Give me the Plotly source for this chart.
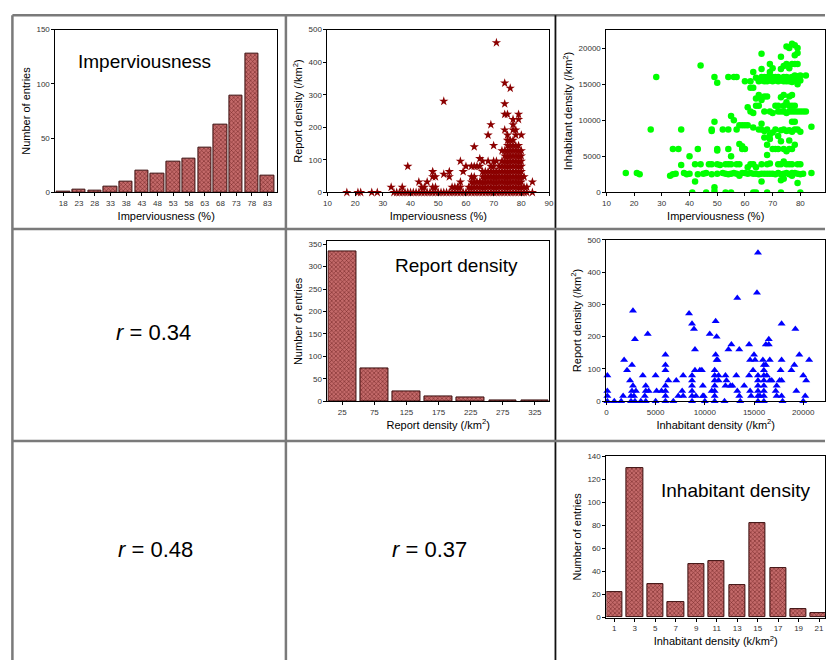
import plotly.graph_objects as go

W, H = 830, 665

# ---- histogram data ----
imperv_bins = [18, 23, 28, 33, 38, 43, 48, 53, 58, 63, 68, 73, 78, 83]
imperv_counts = [1, 3, 2, 5, 10, 20, 17, 28, 31, 41, 62, 89, 128, 15]

report_bins = [25, 75, 125, 175, 225, 275, 325]
report_counts = [333, 74, 22, 10, 8, 2, 2]

inhab_bins = [1, 3, 5, 7, 9, 11, 13, 15, 17, 19, 21]
inhab_counts = [22, 130, 29, 13, 46, 49, 28, 82, 43, 7, 4]

# ---- scatter data: imperviousness (%) -> report densities (/km2) ----
report_by_imperv = {
    17: [0], 21: [0], 22: [0], 26: [0], 28: [0], 33: [16], 34: [0], 35: [0],
    36: [0], 37: [16, 0], 38: [0], 39: [80, 0], 40: [0], 41: [0], 42: [0],
    43: [32, 0], 44: [16, 0], 45: [16, 0], 46: [32, 0], 47: [0],
    48: [64, 48, 16, 0], 49: [48, 16, 0], 50: [0], 51: [0], 52: [280, 56, 0],
    53: [0], 54: [64, 48, 0], 55: [16, 0], 56: [16, 0], 57: [16, 0],
    58: [96, 32, 16, 0], 59: [64, 0], 60: [80, 0], 61: [16, 0],
    62: [80, 48, 32, 16, 0], 63: [140, 80, 48, 32, 16, 0], 64: [80, 32, 16, 0],
    65: [104, 80, 32, 16, 0], 66: [96, 64, 48, 32, 16, 0],
    67: [64, 48, 32, 16, 0], 68: [176, 96, 64, 48, 32, 16, 0],
    69: [208, 80, 64, 48, 32, 16, 0], 70: [144, 96, 80, 64, 48, 32, 16, 0],
    71: [460, 96, 64, 48, 32, 16, 0], 72: [80, 64, 48, 32, 16, 0],
    73: [128, 96, 80, 64, 48, 32, 16, 0],
    74: [336, 272, 240, 192, 128, 112, 96, 80, 64, 48, 32, 16, 0],
    75: [240, 176, 160, 144, 128, 112, 96, 80, 64, 48, 32, 16, 0],
    76: [320, 160, 144, 128, 112, 96, 80, 64, 48, 32, 16, 0],
    77: [224, 208, 192, 160, 144, 128, 112, 96, 80, 64, 48, 32, 16, 0],
    78: [192, 176, 144, 128, 112, 96, 80, 64, 48, 32, 16, 0],
    79: [240, 224, 144, 128, 112, 96, 80, 64, 48, 32, 16, 0],
    80: [176, 128, 112, 96, 80, 64, 48, 32, 16, 0],
    81: [48, 16, 0], 82: [16, 0], 84: [32, 0],
}

# ---- scatter data: imperviousness (%) -> inhabitant densities (/km2) ----
inhab_by_imperv = {
    17: [2700], 21: [2700], 22: [2500], 26: [8700], 28: [16000], 33: [2300],
    34: [6000, 2500], 35: [2600], 36: [6000], 37: [8700, 3800], 38: [2700],
    39: [2500], 40: [5000, 2600], 41: [0], 42: [1500, 3900],
    43: [6000, 2500], 44: [17600, 3900], 45: [2600], 46: [0, 2700],
    47: [3900], 48: [8700, 8500, 3900, 2500], 49: [9800, 16000, 700, 200],
    50: [15200, 6000, 5800, 3900, 2600], 51: [3800], 52: [8700, 2700],
    53: [3900, 2600, 0], 54: [16000, 8700, 6000, 3900, 2500],
    55: [10600, 5000, 3900, 2600, 0], 56: [16000, 10000, 2700],
    57: [16000, 8700, 3900, 2600], 58: [9300, 6700, 3900, 2300],
    59: [6400, 6000, 9300, 2700], 60: [15400, 9300, 6000, 2700],
    61: [11800, 9300, 3500, 2600], 62: [15400, 14500, 11200, 3900, 2700],
    63: [16700, 14500, 11000, 9000, 3900, 2600, 0],
    64: [15900, 13000, 12000, 3500, 2600, 0],
    65: [15400, 13500, 12000, 8700, 2500],
    66: [19200, 17100, 16000, 15500, 12800, 9500, 8700, 3900, 1500, 2600],
    67: [16000, 15400, 13300, 11200, 8500, 7600, 2600],
    68: [16000, 15400, 13300, 8700, 6600, 5200, 3900, 2600, 0],
    69: [17800, 16700, 15500, 11200, 8000, 7400, 4000, 2600],
    70: [17200, 16000, 15400, 11000, 8300, 6000, 2600],
    71: [16000, 15500, 12000, 8700, 6000, 2500],
    72: [16000, 15400, 12000, 11200, 7800, 6000, 3900, 2700],
    73: [18800, 17100, 15500, 13200, 11200, 8600, 7100, 3900, 2500, 1700, 0],
    74: [17500, 16000, 15400, 13500, 12000, 11200, 8700, 6000, 4300, 2600, 1900],
    75: [20200, 17800, 16000, 15400, 12500, 11000, 8500, 5700, 3900, 2700],
    76: [20000, 17200, 15900, 15400, 13300, 12000, 11200, 8600, 7200, 6000, 3900, 2500],
    77: [20600, 17800, 16000, 15300, 13500, 12000, 11200, 9800, 8400, 6000, 3900, 2700, 2300],
    78: [20400, 19000, 17800, 16200, 15500, 12000, 11200, 9800, 8700, 6600, 2700],
    79: [20000, 19300, 17800, 16100, 15000, 11200, 8700, 3900, 1300, 2600],
    80: [16200, 15500, 11200, 8400, 3900, 2500, 0],
    81: [11200, 2600], 82: [16200, 11200], 84: [9100, 2700],
}

# ---- scatter data: inhabitant density (/km2) -> report densities (/km2) ----
report_by_inhab = {
    100: [80, 32, 16, 0], 800: [0], 1500: [0], 1700: [16], 1800: [128],
    2100: [96], 2400: [64], 2500: [16, 0], 2600: [112, 32], 2700: [280, 48],
    2800: [16], 2900: [192, 0], 3000: [32], 3500: [0], 3700: [80], 3900: [16],
    4000: [48, 32, 0], 4200: [208], 4300: [32], 5000: [80, 0], 5100: [32],
    5600: [32], 6000: [144, 112, 96, 48, 32, 16, 0], 6300: [64], 6800: [0],
    7100: [64], 7300: [16], 7700: [32], 7800: [80, 16], 8400: [272],
    8700: [240, 80, 64, 48, 32, 16, 0], 8900: [224], 9000: [160, 96],
    9100: [16], 9500: [96], 9700: [96], 9800: [48, 16], 9900: [16],
    10000: [0], 10500: [208], 10700: [32],
    11000: [96, 80, 64, 48, 32, 16, 0], 11100: [248, 144], 11200: [200, 128],
    11300: [128], 11400: [80, 64], 12000: [0], 12100: [80, 48], 12200: [64],
    12400: [160], 12600: [48], 12700: [176], 12800: [48],
    13200: [80], 13300: [320, 32], 13500: [160, 16], 13600: [0], 14000: [48],
    14500: [176, 80], 14600: [128, 32], 14700: [16], 14900: [96],
    15000: [144], 15100: [128], 15300: [336],
    15400: [460, 80, 64, 48, 32, 16, 0], 15600: [16], 15900: [128],
    16000: [112, 96, 80, 64, 48, 32, 16, 0], 16200: [176, 112], 16300: [80],
    16500: [192, 176], 16600: [128, 64], 16800: [64], 17200: [32],
    17300: [48, 16], 17600: [64], 17700: [96], 17800: [240, 128, 64, 16],
    17900: [0], 18800: [96], 19100: [112], 19200: [224], 19300: [32],
    19600: [144], 20000: [80, 0], 20200: [16], 20300: [64], 20600: [128],
}


def flatten(columns):
    xs, ys = [], []
    for x, vals in columns.items():
        for v in vals:
            xs.append(x)
            ys.append(v)
    return xs, ys


def px_x(p):
    return p / W


def px_y(p):
    return 1 - p / H


FONT = "Liberation Sans, Arial, sans-serif"
BAR_FILL = "#b45454"
BAR_EDGE = "#3a0d0d"
BAR_MARKER = dict(
    color=BAR_FILL,
    line=dict(color=BAR_EDGE, width=1),
    pattern=dict(shape="x", size=3, solidity=0.35, fgcolor="#7a2a2a",
                 bgcolor="#c46a6a", fillmode="replace"),
)

fig = go.Figure()

# histograms
fig.add_trace(go.Bar(x=imperv_bins, y=imperv_counts, width=4.3,
                     marker=BAR_MARKER, xaxis="x", yaxis="y"))
fig.add_trace(go.Bar(x=report_bins, y=report_counts, width=43,
                     marker=BAR_MARKER, xaxis="x4", yaxis="y4"))
fig.add_trace(go.Bar(x=inhab_bins, y=inhab_counts, width=1.6,
                     marker=BAR_MARKER, xaxis="x6", yaxis="y6"))

# scatters
sx, sy = flatten(report_by_imperv)
fig.add_trace(go.Scatter(x=sx, y=sy, mode="markers",
                         marker=dict(symbol="star", size=7, color="#8b0000"),
                         xaxis="x2", yaxis="y2", cliponaxis=False))
gx, gy = flatten(inhab_by_imperv)
fig.add_trace(go.Scatter(x=gx, y=gy, mode="markers",
                         marker=dict(symbol="circle", size=6.5, color="#00ff00"),
                         xaxis="x3", yaxis="y3"))
bx, by = flatten(report_by_inhab)
fig.add_trace(go.Scatter(x=bx, y=by, mode="markers",
                         marker=dict(symbol="triangle-up", size=7, color="#0000ff"),
                         xaxis="x5", yaxis="y5", cliponaxis=False))


def axis(domain, rng, title, standoff, **kw):
    d = dict(domain=domain, range=rng, showline=True, linecolor="black",
             linewidth=1, mirror=True, ticks="outside", ticklen=3,
             tickcolor="black", showgrid=False, zeroline=False,
             tickformat="d",
             tickfont=dict(size=8, color="#333333", family=FONT),
             title=dict(text=title, font=dict(size=11, color="black", family=FONT),
                        standoff=standoff))
    d.update(kw)
    return d


col1 = [px_x(52), px_x(276)]
col2 = [px_x(327), px_x(551)]
col3 = [px_x(609), 1.0]
row1 = [px_y(191), px_y(26)]
row2_hist = [px_y(402.7), px_y(240.7)]
row2_sc = [px_y(402.7), px_y(239)]
row3 = [px_y(622), px_y(458.3)]

layout = dict(
    width=W, height=H, margin=dict(l=0, r=0, t=0, b=0),
    paper_bgcolor="white", plot_bgcolor="white", showlegend=False,
    bargap=0,
    font=dict(family=FONT),
    xaxis=axis(col1, [15.5, 86], "Imperviousness (%)", 5,
               tickvals=imperv_bins, anchor="y"),
    yaxis=axis(row1, [0, 150], "Number of entries", 3, dtick=50, anchor="x"),
    xaxis2=axis(col2, [10, 90], "Imperviousness (%)", 5, dtick=10, anchor="y2"),
    yaxis2=axis(row1, [0, 500], "Report density (/km<sup>2</sup>)", 3,
                dtick=100, anchor="x2"),
    xaxis3=axis(col3, [10, 88.9], "Imperviousness (%)", 5, dtick=10, anchor="y3"),
    yaxis3=axis(row1, [0, 22550], "Inhabitant density (/km<sup>2</sup>)", 3,
                dtick=5000, anchor="x3"),
    xaxis4=axis(col2, [2, 347], "Report density (/km<sup>2</sup>)", 5,
                tickvals=report_bins, anchor="y4"),
    yaxis4=axis(row2_hist, [0, 356], "Number of entries", 3, dtick=50, anchor="x4"),
    xaxis5=axis(col3, [0, 22211], "Inhabitant density (/km<sup>2</sup>)", 5,
                dtick=5000, anchor="y5"),
    yaxis5=axis(row2_sc, [0, 500], "Report density (/km<sup>2</sup>)", 3,
                dtick=100, anchor="x5"),
    xaxis6=axis(col3, [0.225, 21.58], "Inhabitant density (k/km<sup>2</sup>)", 5,
                tickvals=inhab_bins, anchor="y6"),
    yaxis6=axis(row3, [0, 140], "Number of entries", 3, dtick=20, anchor="x6"),
)
fig.update_layout(**layout)

# table grid
GRAY = "#7a7a7a"
grid = [
    (8.5, 11.5, 8.5, H, GRAY, 2.5),
    (8.5, 11.5, W, 11.5, GRAY, 2.5),
    (285, 11.5, 285, H, GRAY, 2.5),
    (557.5, 11.5, 557.5, H, "#111111", 1.8),
    (8.5, 228, W, 228, GRAY, 2.5),
    (8.5, 443, W, 443, GRAY, 2.5),
]
for x0, y0, x1, y1, c, w in grid:
    fig.add_shape(type="line", xref="paper", yref="paper",
                  x0=px_x(x0), y0=px_y(y0), x1=px_x(x1), y1=px_y(y1),
                  line=dict(color=c, width=w))

# panel labels and correlation coefficients
labels = [
    (142, 58, "Imperviousness", 19),
    (457, 265, "Report density", 19),
    (740, 493, "Inhabitant density", 19),
    (151, 333, "<i>r</i> = 0.34", 22),
    (153, 553, "<i>r</i> = 0.48", 22),
    (430, 553, "<i>r</i> = 0.37", 22),
]
for x, y, t, s in labels:
    fig.add_annotation(x=px_x(x), y=px_y(y), xref="paper", yref="paper",
                       text=t, showarrow=False, xanchor="center", yanchor="middle",
                       font=dict(size=s, color="black", family=FONT))

fig.write_html("out.html")
